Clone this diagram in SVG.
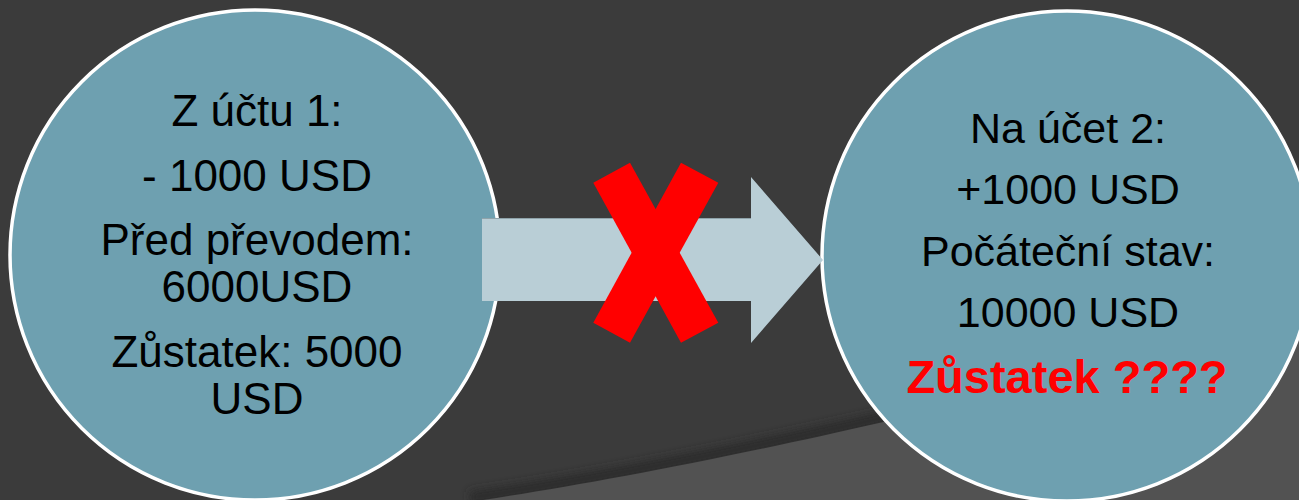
<svg xmlns="http://www.w3.org/2000/svg" width="1299" height="500" viewBox="0 0 1299 500">
<defs>
<style>
.bubble{fill:#6EA0B0;stroke:#FFFFFF;stroke-width:3.5}
.t{font-family:"Liberation Sans",Arial,sans-serif;font-size:44px;fill:#000;text-anchor:middle}
.r{font-family:"Liberation Sans",Arial,sans-serif;font-size:43px;fill:#000;text-anchor:middle}
.b{font-family:"Liberation Sans",Arial,sans-serif;font-size:47px;font-weight:bold;fill:#FF0000;text-anchor:middle}
</style>
<filter id="blur" x="-10%" y="-50%" width="120%" height="200%"><feGaussianBlur stdDeviation="5"/></filter>
</defs>
<rect width="1299" height="500" fill="#3B3B3B"/>
<path d="M470,502 C650,475 900,425 1299,318" fill="none" stroke="#2C2C2C" stroke-width="12" filter="url(#blur)" transform="translate(0,-4)"/>
<path d="M470,502 C650,475 900,425 1299,318 L1299,500 L470,500 Z" fill="#525252"/>
<g id="node-left">
<circle class="bubble" cx="255" cy="255" r="245"/>
<text class="t" x="257" y="126">Z účtu 1:</text>
<text class="t" x="257" y="191">- 1000 USD</text>
<text class="t" x="257" y="255">Před převodem:</text>
<text class="t" x="257" y="302">6000USD</text>
<text class="t" x="257" y="367">Zůstatek: 5000</text>
<text class="t" x="257" y="414">USD</text>
</g>
<g id="node-right">
<circle class="bubble" cx="1067" cy="256" r="245"/>
<text class="r" x="1068" y="143">Na účet 2:</text>
<text class="r" x="1068" y="204">+1000 USD</text>
<text class="r" x="1068" y="266">Počáteční stav:</text>
<text class="r" x="1068" y="327">10000 USD</text>
<text class="b" x="1067" y="393">Zůstatek ????</text>
</g>
<g id="connectors">
<path d="M482,218 L751,218 L751,177 L823,260 L751,343 L751,301 L482,301 Z" fill="#B9CED6"/>
<line x1="482" y1="218.5" x2="751" y2="218.5" stroke="#8FA3AA" stroke-width="1"/>
<g id="cross" fill="#FF0000">
<polygon points="593.3,182.7 630,162.7 718.3,322.7 681,342.7"/>
<polygon points="681,162.7 718.3,182.7 630,342.7 593.3,322.7"/>
</g>
</g>
</svg>
